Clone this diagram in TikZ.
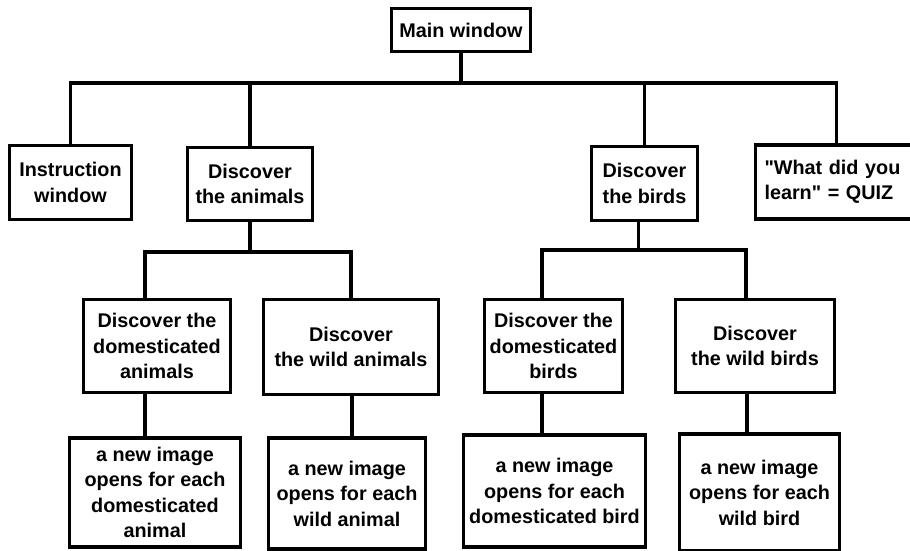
\documentclass[tikz,border=0pt]{standalone}
\usepackage{fontspec}
\setmainfont{Liberation Sans}[Ligatures=TeXOff]
\usetikzlibrary{positioning}
\tikzset{
  screen/.style={
    draw, line width=3.5pt, align=center, inner sep=2pt,
    font=\fontsize{19.8}{25.5}\selectfont\bfseries,
  },
  branch/.style={line width=3.5pt},
}

\begin{document}
\begin{tikzpicture}[x=1pt, y=-1pt, node distance=40pt]
\useasboundingbox (0,0) rectangle (910,551);

% ---- main window -----------------------------------------------------------
\node[screen, minimum width=139pt, minimum height=43pt] (main) at (461,30) {Main window};

% ---- first level -----------------------------------------------------------
\node[screen, minimum width=122pt, minimum height=74pt] (instr)  at (70.5,182.5) {Instruction\\window};
\node[screen, minimum width=125pt, minimum height=73pt] (animals) at (250,184) {Discover\\the animals};
\node[screen, minimum width=106pt, minimum height=74pt] (birds)  at (644.5,183.5) {Discover\\the birds};
\node[screen, minimum height=74pt, align=left, text width=200pt, inner xsep=9pt] (quiz) at (864.5,182)
  {"What did you\\learn" = QUIZ};

\coordinate (topbar) at (0,83);
\coordinate (quizin) at ([xshift=-28pt]quiz.north);
\draw[branch] (main.south) -- (main.south |- topbar);
\draw[branch] (instr.north) -- (instr.north |- topbar) -- (quizin |- topbar) -- (quizin);
\draw[branch] (animals.north) -- (animals.north |- topbar);
\draw[branch] (birds.north) -- (birds.north |- topbar);

% ---- second level ----------------------------------------------------------
\node[screen, minimum width=147pt, minimum height=93pt] (domanim)  at (157,346) {Discover the\\domesticated\\animals};
\node[screen, minimum width=175pt, minimum height=95pt] (wildanim) at (351,347) {Discover\\the wild animals};
\node[screen, minimum width=138pt, minimum height=93pt] (dombird)  at (553.5,346) {Discover the\\domesticated\\birds};
\node[screen, minimum width=159pt, minimum height=93pt] (wildbird) at (755,346) {Discover\\the wild birds};

\coordinate (animbar) at (0,252);
\coordinate (birdbar) at (0,250);
\coordinate (domanimin)  at ([xshift=-12pt]domanim.north);
\coordinate (dombirdin)  at ([xshift=-11.5pt]dombird.north);
\coordinate (wildbirdin) at ([xshift=-9pt]wildbird.north);
\coordinate (birdsout)   at ([xshift=-6pt]birds.south);

\draw[branch] (animals.south) -- (animals.south |- animbar);
\draw[branch] (domanimin) -- (domanimin |- animbar) -- (wildanim.north |- animbar) -- (wildanim.north);
\draw[branch] (birdsout) -- (birdsout |- birdbar);
\draw[branch] (dombirdin) -- (dombirdin |- birdbar) -- (wildbirdin |- birdbar) -- (wildbirdin);

% ---- image windows ---------------------------------------------------------
\node[screen, minimum width=171pt, minimum height=109pt, below=42pt of domanim, xshift=-2pt]  (domanimimg)
  {a new image\\opens for each\\domesticated\\animal};
\node[screen, minimum width=157pt, minimum height=111pt, below=40pt of wildanim, xshift=-4pt] (wildanimimg)
  {a new image\\opens for each\\wild animal};
\node[screen, minimum width=182pt, minimum height=112pt, below=39pt of dombird, xshift=1pt]   (dombirdimg)
  {a new image\\opens for each\\domesticated bird};
\node[screen, minimum width=160pt, minimum height=117pt, below=38pt of wildbird, xshift=4.5pt] (wildbirdimg)
  {a new image\\opens for each\\wild bird};

\draw[branch] ([xshift=-12pt]domanim.south) -- ([xshift=-12pt]domanim.south |- domanimimg.north);
\draw[branch] ([xshift=1pt]wildanim.south) -- ([xshift=1pt]wildanim.south |- wildanimimg.north);
\draw[branch] ([xshift=-11.5pt]dombird.south) -- ([xshift=-11.5pt]dombird.south |- dombirdimg.north);
\draw[branch] ([xshift=-8pt]wildbird.south) -- ([xshift=-8pt]wildbird.south |- wildbirdimg.north);

\end{tikzpicture}
\end{document}
